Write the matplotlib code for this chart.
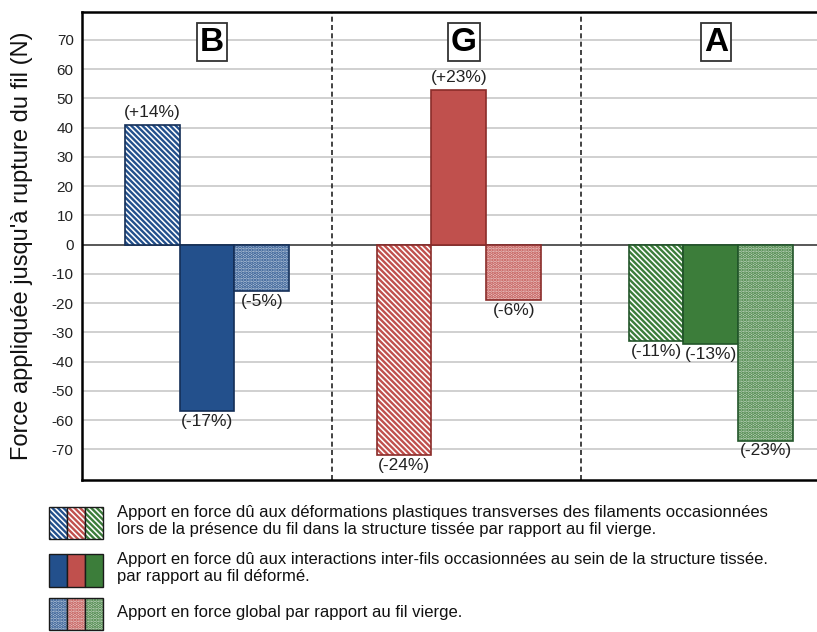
import numpy as np
import matplotlib.pyplot as plt
from matplotlib.patches import Rectangle
from matplotlib.colors import to_rgb

plt.rcParams['font.family'] = ['Liberation Sans', 'DejaVu Sans']
plt.rcParams['hatch.linewidth'] = 1.7
plt.rcParams['axes.unicode_minus'] = False

# data
groups = ['B', 'G', 'A']
deform = [41, -72, -33]       # plastic deformation contribution
inter = [-57, 53, -34]        # inter-yarn interaction contribution
overall = [-16, -19, -67]     # global contribution
deform_lbl = ['(+14%)', '(-24%)', '(-11%)']
inter_lbl = ['(-17%)', '(+23%)', '(-13%)']
overall_lbl = ['(-5%)', '(-6%)', '(-23%)']
yticks = list(range(-70, 80, 10))
separators = [0.496, 1.484]

colors = ['#23508C', '#C0504D', '#3C7D3A']
edges = ['#142F58', '#8A2C2A', '#22552A']

legend_text = [
    "Apport en force dû aux déformations plastiques transverses des filaments occasionnées\n"
    "lors de la présence du fil dans la structure tissée par rapport au fil vierge.",
    "Apport en force dû aux interactions inter-fils occasionnées au sein de la structure tissée.\n"
    "par rapport au fil déformé.",
    "Apport en force global par rapport au fil vierge.",
]

STRIPES = '\\' * 6
DOTS = '.' * 5


def tint(c, f):
    r = np.array(to_rgb(c))
    return tuple(r + (1 - r) * f)


light = [tint(c, 0.65) for c in colors]

W, H = 817, 632
fig = plt.figure(figsize=(W / 100, H / 100), dpi=100)
ax = fig.add_axes([82 / W, 152 / H, 1 - 82 / W, 468 / H])

x = np.arange(len(groups))
w = 0.218

# hatched bars (stripes)
ax.bar(x - w, deform, w, color='white', edgecolor=colors, hatch=STRIPES, lw=0, zorder=3)
ax.bar(x - w, deform, w, fill=False, edgecolor=edges, lw=1.2, zorder=4)
# solid bars
ax.bar(x, inter, w, color=colors, edgecolor=edges, lw=1.2, zorder=3)
# dotted bars
ax.bar(x + w, overall, w, color=light, edgecolor=colors, hatch=DOTS, lw=0, zorder=3)
ax.bar(x + w, overall, w, fill=False, edgecolor=edges, lw=1.2, zorder=4)

for xs, vals, lbls in [(x - w, deform, deform_lbl), (x, inter, inter_lbl), (x + w, overall, overall_lbl)]:
    for xi, v, t in zip(xs, vals, lbls):
        if v >= 0:
            ax.annotate(t, (xi, v), xytext=(0, 3), textcoords='offset points',
                        ha='center', va='bottom', fontsize=12.5, color='#222222')
        else:
            ax.annotate(t, (xi, v), xytext=(0, -2), textcoords='offset points',
                        ha='center', va='top', fontsize=12.5, color='#222222')

for xi, g in zip(x, groups):
    ax.text(xi + 0.02, 69.2, g, ha='center', va='center', fontsize=24, fontweight='bold',
            bbox=dict(boxstyle='square,pad=0.1', fc='white', ec='#333333', lw=1.3), zorder=5)

for s in separators:
    ax.axvline(s, color='#222222', lw=1.2, ls=(0, (3, 2)), zorder=2)

ax.axhline(0, color='#444444', lw=1.2, zorder=2)
ax.set_ylim(-80.5, 79.5)
ax.set_xlim(-0.496, 2.421)
ax.set_xticks([])
ax.set_yticks(yticks)
ax.tick_params(axis='y', length=0, pad=6, labelsize=11, labelcolor='#222222')
ax.yaxis.grid(True, color='#c8c8c8', lw=1.2, zorder=0)
ax.set_axisbelow(True)
for sp in ['left', 'top', 'bottom']:
    ax.spines[sp].set_linewidth(1.8)
    ax.spines[sp].set_color('black')
ax.spines['right'].set_visible(False)

fig.text(22 / W, 1 - 246 / H, "Force appliquée jusqu'à rupture du fil (N)", rotation=90,
         ha='center', va='center', fontsize=17, color='#111111')

# legend drawn in pixel coordinates
lg = fig.add_axes([0, 0, 1, 1])
lg.set_xlim(0, W)
lg.set_ylim(H, 0)
lg.axis('off')
rows = [(507, 32), (554, 33), (598, 32)]
text_y = [521, 568, 613]
for r, ((y0, h), ty, txt) in enumerate(zip(rows, text_y, legend_text)):
    for c in range(3):
        x0 = 49 + c * 18
        if r == 0:
            lg.add_patch(Rectangle((x0, y0), 18, h, fc='white', ec=colors[c], hatch=STRIPES, lw=0))
        elif r == 1:
            lg.add_patch(Rectangle((x0, y0), 18, h, fc=colors[c], lw=0))
        else:
            lg.add_patch(Rectangle((x0, y0), 18, h, fc=light[c], ec=colors[c], hatch=DOTS, lw=0))
        lg.add_patch(Rectangle((x0, y0), 18, h, fill=False, ec='#1a1a1a', lw=1.0))
    lg.text(117, ty, txt, ha='left', va='center', fontsize=12, linespacing=1.1, color='#111111')

fig.savefig('out.png', dpi=100)
